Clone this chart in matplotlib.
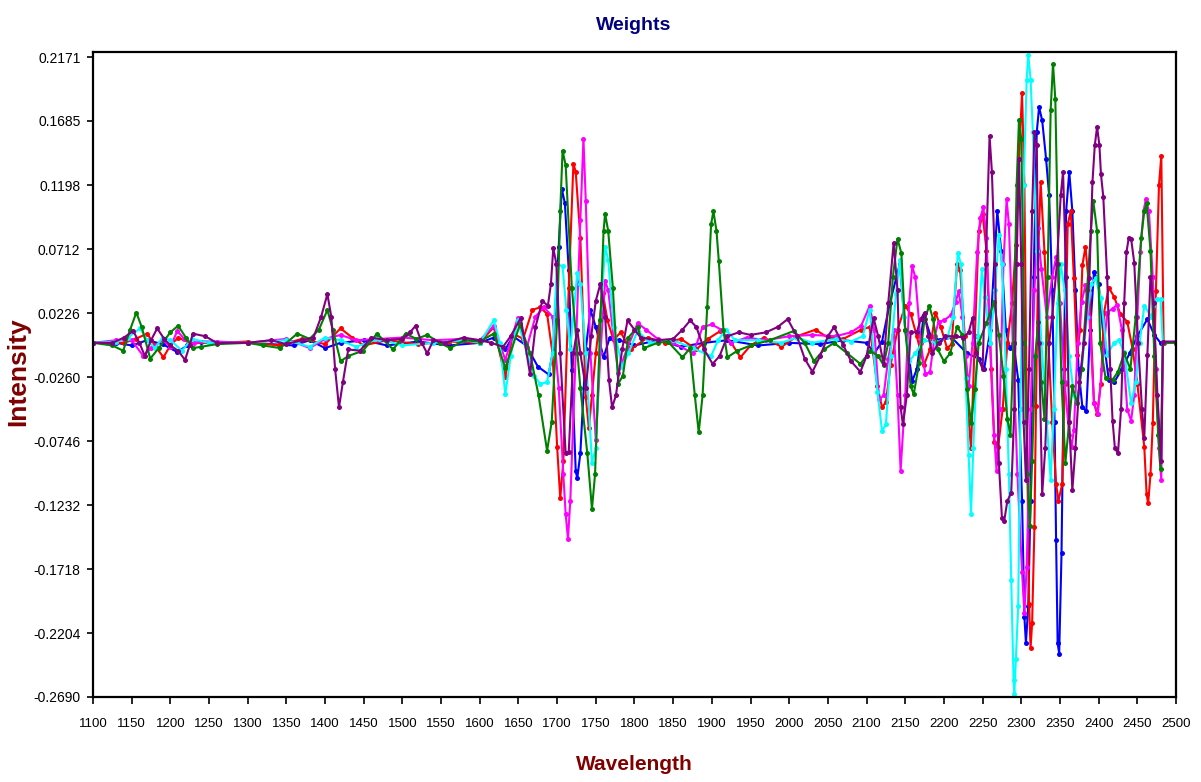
import matplotlib
matplotlib.use("Agg")
import matplotlib.pyplot as plt

# ---- data: weight vectors vs wavelength (nm) ----
wl_blue = [1100, 1130, 1150, 1170, 1190, 1209, 1222, 1240, 1300, 1360, 1380, 1400, 1420, 1450, 1480, 1520, 1560, 1600,
           1618, 1633, 1643, 1660, 1675, 1689, 1695, 1702, 1706, 1710, 1715, 1719, 1724, 1726, 1730, 1737, 1743, 1750,
           1760, 1768, 1780, 1800, 1830, 1860, 1890, 1920, 1960, 2000, 2040, 2070, 2100, 2110, 2120, 2130, 2143, 2150,
           2159, 2165, 2174, 2183, 2195, 2210, 2230, 2245, 2252, 2260, 2269, 2274, 2280, 2285, 2290, 2296, 2301, 2304,
           2306, 2309, 2312, 2316, 2320, 2323, 2327, 2332, 2336, 2340, 2343, 2345, 2347, 2349, 2352, 2355, 2358, 2362,
           2366, 2370, 2374, 2379, 2384, 2389, 2394, 2400, 2407, 2413, 2420, 2430, 2440, 2450, 2463, 2472, 2480, 2500]
val_blue = [0.0, 0.0, -0.002, 0.002, -0.001, -0.007, -0.002, 0.001, 0.0, -0.002, 0.002, -0.004, 0.0, 0.002, -0.002, 0.001,
            -0.002, 0.0, 0.004, -0.005, 0.005, -0.002, -0.018, -0.024, -0.005, 0.073, 0.117, 0.106, 0.055, -0.021, -0.097,
            -0.103, -0.084, -0.005, 0.025, 0.012, -0.011, 0.004, 0.002, -0.002, 0.002, -0.003, 0.0, 0.002, -0.002, 0.0,
            -0.001, 0.002, 0.0, -0.008, 0.001, 0.03, 0.06, 0.01, -0.029, -0.02, 0.021, 0.005, 0.002, 0.004, -0.008,
            -0.012, -0.02, 0.01, 0.1, 0.07, 0.01, -0.004, 0.0, -0.028, -0.12, -0.208, -0.228, -0.2, -0.12, 0.05, 0.16,
            0.179, 0.169, 0.14, 0.112, 0.04, -0.06, -0.15, -0.228, -0.236, -0.16, -0.02, 0.1, 0.13, 0.1, 0.04, -0.02,
            -0.049, -0.052, 0.01, 0.054, 0.045, 0.0, -0.028, -0.03, -0.02, -0.008, 0.005, 0.018, 0.006, 0.0, 0.0]

wl_red = [1100, 1140, 1155, 1170, 1180, 1191, 1200, 1210, 1225, 1260, 1300, 1340, 1370, 1400, 1420, 1435, 1450, 1480,
          1520, 1560, 1600, 1618, 1633, 1643, 1656, 1668, 1678, 1687, 1694, 1700, 1704, 1708, 1715, 1721, 1724, 1730,
          1737, 1741, 1745, 1750, 1759, 1765, 1773, 1782, 1795, 1817, 1840, 1860, 1880, 1895, 1911, 1925, 1937, 1950,
          1967, 1990, 2010, 2034, 2050, 2070, 2093, 2104, 2114, 2120, 2125, 2131, 2140, 2150, 2157, 2165, 2174, 2182,
          2189, 2196, 2204, 2210, 2217, 2221, 2227, 2232, 2235, 2240, 2245, 2250, 2255, 2261, 2265, 2270, 2276, 2282,
          2288, 2293, 2297, 2301, 2304, 2307, 2310, 2312, 2314, 2317, 2319, 2322, 2325, 2330, 2335, 2340, 2345, 2348,
          2353, 2356, 2360, 2364, 2368, 2372, 2376, 2379, 2383, 2388, 2394, 2398, 2403, 2407, 2413, 2420, 2428, 2437,
          2444, 2450, 2459, 2462, 2464, 2467, 2470, 2474, 2478, 2481, 2484, 2500]
val_red = [0.0, 0.0, 0.003, 0.007, -0.002, -0.011, -0.002, 0.004, 0.0, 0.0, 0.001, -0.002, 0.003, -0.001, 0.011, 0.004,
           -0.002, 0.002, -0.001, 0.001, 0.0, 0.012, -0.026, 0.007, 0.003, 0.025, 0.027, 0.022, -0.008, -0.079, -0.118,
           -0.09, 0.042, 0.136, 0.13, 0.08, -0.041, -0.065, -0.04, -0.008, 0.038, 0.017, 0.002, 0.008, -0.005, 0.004,
           0.0, 0.003, -0.005, 0.003, 0.009, 0.0, -0.011, -0.002, 0.004, -0.003, 0.005, 0.01, 0.004, 0.003, 0.01, 0.012,
           -0.033, -0.049, -0.045, -0.017, 0.01, 0.028, 0.022, 0.005, -0.017, -0.005, 0.023, 0.012, -0.004, -0.001,
           0.06, 0.055, 0.005, -0.059, -0.08, 0.005, 0.085, 0.098, 0.07, -0.02, -0.075, -0.079, -0.05, 0.0, 0.03,
           0.074, 0.14, 0.19, 0.12, -0.05, -0.198, -0.232, -0.213, -0.14, -0.048, 0.07, 0.122, 0.069, 0.0, -0.06,
           -0.107, -0.12, -0.107, -0.031, 0.09, 0.1, 0.049, -0.009, 0.01, 0.059, 0.073, 0.04, -0.046, -0.054, -0.031,
           0.023, 0.042, 0.035, 0.022, 0.016, -0.005, -0.031, -0.079, -0.115, -0.122, -0.1, -0.061, 0.039, 0.12,
           0.142, 0.0, 0.0]

wl_cyan = [1100, 1130, 1145, 1161, 1170, 1180, 1190, 1200, 1215, 1228, 1250, 1300, 1350, 1380, 1400, 1420, 1440, 1470,
           1500, 1540, 1580, 1600, 1618, 1626, 1633, 1640, 1649, 1661, 1670, 1678, 1687, 1694, 1700, 1707, 1712, 1717,
           1726, 1730, 1737, 1745, 1750, 1756, 1762, 1766, 1773, 1784, 1792, 1804, 1820, 1850, 1875, 1899, 1908, 1918,
           1930, 1960, 1990, 2010, 2030, 2060, 2080, 2095, 2104, 2114, 2120, 2125, 2131, 2138, 2143, 2148, 2155, 2163,
           2174, 2190, 2205, 2212, 2218, 2222, 2228, 2232, 2235, 2238, 2244, 2249, 2253, 2260, 2266, 2271, 2275, 2280,
           2284, 2287, 2290, 2291, 2293, 2296, 2299, 2303, 2307, 2309, 2312, 2315, 2320, 2326, 2333, 2338, 2342, 2347,
           2351, 2356, 2362, 2368, 2372, 2378, 2385, 2390, 2396, 2403, 2411, 2420, 2426, 2433, 2442, 2448, 2453, 2459,
           2468, 2476, 2480, 2483, 2500]
val_cyan = [0.0, 0.001, 0.004, 0.011, 0.002, -0.004, 0.004, 0.002, -0.006, 0.003, 0.0, 0.0, 0.002, -0.003, 0.004, 0.002,
            -0.003, 0.003, -0.002, 0.0, 0.002, 0.0, 0.017, 0.0, -0.039, -0.01, 0.017, -0.008, -0.025, -0.031, -0.03,
            -0.008, 0.06, 0.058, 0.025, -0.005, 0.053, 0.045, -0.008, -0.091, -0.08, 0.017, 0.073, 0.063, 0.012,
            -0.018, -0.008, 0.009, 0.0, 0.002, -0.004, -0.01, 0.002, 0.01, 0.002, 0.002, 0.0, 0.004, 0.0, 0.003, 0.001,
            0.005, 0.025, -0.037, -0.067, -0.062, -0.01, 0.037, 0.063, 0.02, -0.014, -0.008, 0.002, 0.0, 0.005, 0.02,
            0.068, 0.06, -0.027, -0.085, -0.13, -0.08, 0.005, 0.056, 0.035, 0.0, 0.04, 0.082, 0.06, -0.02, -0.1, -0.18,
            -0.256, -0.267, -0.24, -0.2, -0.05, 0.12, 0.2, 0.219, 0.2, 0.16, 0.07, 0.0, -0.06, -0.104, -0.05, 0.03,
            0.06, 0.04, -0.01, -0.04, -0.046, -0.02, 0.02, 0.045, 0.049, 0.034, -0.009, 0.0, 0.002, -0.007, -0.046,
            -0.03, 0.0, 0.028, 0.02, 0.033, 0.033, 0.0, 0.0]

wl_magenta = [1100, 1130, 1150, 1165, 1175, 1190, 1200, 1209, 1218, 1230, 1260, 1300, 1350, 1380, 1400, 1420, 1440,
              1470, 1500, 1540, 1580, 1600, 1618, 1633, 1649, 1661, 1672, 1683, 1694, 1702, 1708, 1711, 1714, 1717,
              1724, 1730, 1734, 1737, 1743, 1750, 1756, 1762, 1766, 1773, 1779, 1790, 1804, 1815, 1830, 1850, 1876,
              1888, 1900, 1912, 1925, 1945, 1970, 2000, 2030, 2060, 2080, 2093, 2104, 2110, 2116, 2122, 2128, 2135,
              2140, 2144, 2150, 2155, 2159, 2163, 2170, 2176, 2182, 2188, 2193, 2200, 2209, 2215, 2219, 2224, 2228,
              2232, 2237, 2243, 2247, 2251, 2255, 2260, 2265, 2268, 2272, 2277, 2281, 2284, 2289, 2295, 2301, 2304,
              2307, 2312, 2317, 2321, 2326, 2333, 2340, 2345, 2350, 2356, 2362, 2365, 2368, 2373, 2378, 2383, 2388,
              2394, 2399, 2404, 2411, 2418, 2424, 2430, 2437, 2442, 2446, 2450, 2454, 2458, 2461, 2465, 2470, 2474,
              2478, 2481, 2483, 2500]
val_magenta = [0.0, 0.002, 0.002, -0.01, -0.004, 0.002, -0.003, 0.009, 0.003, 0.0, 0.001, 0.0, 0.003, -0.004, 0.003,
               0.006, 0.002, 0.003, 0.004, 0.002, 0.003, 0.002, 0.013, -0.013, 0.019, -0.003, 0.02, 0.027, 0.02, -0.034,
               -0.1, -0.13, -0.149, -0.12, -0.008, 0.093, 0.155, 0.108, -0.008, -0.074, -0.008, 0.047, 0.04, 0.004,
               -0.023, -0.005, 0.015, 0.01, 0.003, 0.0, -0.008, 0.012, 0.014, 0.01, 0.0, 0.004, 0.002, 0.005, 0.006,
               0.005, 0.008, 0.013, 0.028, 0.01, -0.043, -0.04, -0.012, 0.01, -0.04, -0.097, -0.04, 0.03, 0.058, 0.05,
               0.0, -0.024, -0.022, 0.005, 0.016, 0.017, 0.021, 0.031, 0.039, 0.02, -0.01, -0.033, 0.0, 0.069, 0.095,
               0.103, 0.08, 0.0, -0.07, -0.097, -0.05, 0.06, 0.109, 0.09, 0.0, -0.1, -0.174, -0.205, -0.17, -0.05, 0.04,
               0.087, 0.056, 0.02, 0.05, 0.065, 0.03, -0.03, -0.07, -0.079, -0.066, 0.0, 0.031, 0.044, 0.02, -0.046,
               -0.054, -0.02, 0.023, 0.026, 0.029, 0.01, -0.051, -0.059, -0.04, 0.02, 0.069, 0.1, 0.109, 0.1, 0.05,
               -0.02, -0.08, -0.104, 0.0, 0.0]

wl_green = [1100, 1125, 1139, 1148, 1156, 1163, 1174, 1185, 1200, 1210, 1220, 1229, 1240, 1260, 1300, 1320, 1342, 1364,
            1380, 1392, 1403, 1410, 1420, 1430, 1449, 1467, 1488, 1504, 1518, 1532, 1548, 1562, 1580, 1600, 1618, 1633,
            1652, 1665, 1676, 1687, 1693, 1700, 1704, 1707, 1711, 1719, 1730, 1739, 1745, 1749, 1756, 1760, 1762, 1766,
            1772, 1779, 1785, 1792, 1804, 1812, 1830, 1843, 1862, 1872, 1878, 1883, 1888, 1894, 1899, 1902, 1906, 1909,
            1915, 1920, 1933, 1950, 1975, 2006, 2020, 2032, 2045, 2058, 2075, 2092, 2105, 2115, 2122, 2128, 2134, 2140,
            2145, 2150, 2157, 2161, 2168, 2175, 2181, 2186, 2192, 2200, 2208, 2217, 2224, 2230, 2235, 2240, 2245, 2255,
            2265, 2271, 2277, 2282, 2286, 2290, 2294, 2297, 2300, 2304, 2308, 2311, 2314, 2318, 2322, 2326, 2330, 2334,
            2338, 2341, 2344, 2348, 2352, 2357, 2362, 2366, 2372, 2378, 2385, 2390, 2393, 2398, 2402, 2409, 2418, 2425,
            2433, 2441, 2448, 2455, 2459, 2462, 2467, 2472, 2477, 2480, 2483, 2500]
val_green = [0.0, -0.002, -0.006, 0.01, 0.023, 0.012, -0.012, -0.004, 0.008, 0.013, 0.004, -0.004, -0.003, -0.001, 0.0,
             -0.002, -0.004, 0.007, 0.003, 0.01, 0.025, 0.01, -0.014, -0.01, -0.006, 0.007, -0.005, 0.007, 0.003, 0.006,
             0.0, -0.004, 0.002, 0.001, 0.007, -0.019, 0.014, -0.008, -0.04, -0.082, -0.06, 0.017, 0.1, 0.146, 0.135,
             0.042, -0.034, -0.084, -0.126, -0.1, 0.017, 0.085, 0.098, 0.085, 0.042, -0.031, -0.025, 0.004, 0.012,
             -0.004, 0.0, 0.001, -0.011, -0.004, -0.04, -0.068, -0.04, 0.027, 0.09, 0.1, 0.085, 0.062, 0.01, -0.011,
             -0.006, -0.002, 0.002, 0.009, 0.0, -0.014, -0.005, 0.0, -0.008, -0.016, -0.006, -0.01, -0.017, 0.0, 0.05,
             0.079, 0.068, 0.01, -0.033, -0.039, -0.015, 0.018, 0.028, 0.018, -0.005, -0.014, -0.008, 0.012, 0.006,
             -0.035, -0.061, -0.035, 0.0, 0.015, 0.031, 0.006, -0.025, -0.058, -0.07, 0.0, 0.12, 0.169, 0.155, 0.0, -0.1,
             -0.139, -0.09, -0.01, 0.016, -0.03, -0.058, 0.05, 0.177, 0.212, 0.185, 0.06, -0.03, -0.091, -0.06, -0.033,
             -0.046, -0.02, 0.04, 0.085, 0.108, 0.085, 0.0, -0.027, -0.028, -0.022, -0.008, -0.02, 0.02, 0.08, 0.1,
             0.106, 0.07, -0.01, -0.07, -0.096, 0.0, 0.0]

wl_purple = [1100, 1125, 1140, 1152, 1160, 1167, 1175, 1183, 1192, 1200, 1210, 1219, 1225, 1229, 1245, 1260, 1300, 1330,
             1350, 1370, 1385, 1395, 1403, 1408, 1413, 1418, 1423, 1430, 1445, 1460, 1480, 1500, 1510, 1517, 1525, 1532,
             1540, 1555, 1579, 1600, 1615, 1630, 1640, 1653, 1665, 1672, 1681, 1688, 1692, 1695, 1699, 1704, 1711, 1715,
             1721, 1726, 1730, 1737, 1744, 1750, 1756, 1762, 1767, 1771, 1776, 1784, 1791, 1800, 1808, 1830, 1850, 1862,
             1872, 1880, 1890, 1901, 1910, 1920, 1935, 1950, 1970, 1985, 1998, 2010, 2020, 2030, 2040, 2050, 2058, 2070,
             2080, 2092, 2100, 2109, 2115, 2122, 2128, 2135, 2140, 2144, 2147, 2152, 2157, 2165, 2170, 2175, 2180, 2185,
             2193, 2202, 2215, 2225, 2232, 2237, 2242, 2250, 2254, 2259, 2262, 2266, 2271, 2275, 2278, 2282, 2287, 2291,
             2294, 2297, 2300, 2303, 2306, 2310, 2314, 2317, 2320, 2323, 2327, 2331, 2336, 2340, 2346, 2351, 2354, 2358,
             2362, 2366, 2370, 2375, 2381, 2388, 2392, 2395, 2398, 2401, 2403, 2406, 2411, 2415, 2418, 2421, 2425, 2429,
             2433, 2436, 2439, 2442, 2446, 2451, 2456, 2459, 2463, 2467, 2471, 2476, 2481, 2483, 2500]
val_purple = [0.0, 0.0, 0.004, 0.009, 0.0, -0.01, 0.002, 0.011, 0.003, -0.002, -0.006, -0.013, -0.002, 0.007, 0.005, 0.0,
              0.0, 0.002, -0.001, 0.002, 0.004, 0.02, 0.037, 0.02, -0.02, -0.049, -0.03, -0.005, -0.006, 0.004, 0.002,
              0.003, 0.008, 0.013, 0.0, -0.008, 0.002, 0.0, 0.004, 0.002, 0.0, -0.003, 0.005, 0.019, -0.024, 0.012, 0.032,
              0.028, 0.045, 0.072, 0.06, -0.008, -0.084, -0.083, -0.008, 0.01, -0.008, -0.034, 0.005, 0.032, 0.045, 0.02,
              -0.028, -0.049, -0.04, -0.005, 0.017, 0.01, 0.004, 0.002, 0.003, 0.01, 0.017, 0.012, -0.005, -0.016, -0.01,
              0.005, 0.008, 0.006, 0.008, 0.012, 0.018, 0.005, -0.012, -0.022, -0.01, 0.005, 0.012, -0.002, -0.014,
              -0.022, -0.01, 0.019, 0.005, -0.016, 0.03, 0.076, 0.04, -0.049, -0.062, -0.04, 0.008, 0.008, 0.018, 0.023,
              0.005, -0.008, 0.0, 0.005, 0.005, 0.004, 0.008, 0.019, -0.008, -0.02, 0.06, 0.157, 0.13, 0.06, -0.091,
              -0.133, -0.135, -0.12, -0.114, -0.05, 0.06, 0.14, 0.06, -0.06, -0.104, -0.02, 0.1, 0.16, 0.15, 0.0, -0.115,
              -0.08, 0.0, 0.02, 0.06, 0.112, 0.13, 0.05, -0.06, -0.112, -0.08, -0.03, 0.0, 0.049, 0.122, 0.15, 0.164,
              0.15, 0.128, 0.111, 0.05, -0.02, -0.059, -0.08, -0.084, -0.05, 0.03, 0.069, 0.08, 0.079, 0.061, 0.0, -0.05,
              -0.072, -0.009, 0.05, 0.03, -0.04, -0.09, 0.001, 0.001]

series = [
    (wl_blue, val_blue, "#0000FF"),
    (wl_red, val_red, "#FF0000"),
    (wl_magenta, val_magenta, "#FF00FF"),
    (wl_cyan, val_cyan, "#00FFFF"),
    (wl_green, val_green, "#008000"),
    (wl_purple, val_purple, "#800080"),
]

x_ticks = list(range(1100, 2501, 50))
y_ticks = [-0.2690, -0.2204, -0.1718, -0.1232, -0.0746, -0.0260, 0.0226, 0.0712, 0.1198, 0.1685, 0.2171]

sans = ["Liberation Sans", "DejaVu Sans"]

fig = plt.figure(figsize=(12.01, 7.82), dpi=100)
ax = fig.add_axes([93 / 1201, 1 - 697 / 782, (1176 - 93) / 1201, (697 - 52) / 782])

for wl, val, col in series:
    ax.plot(wl, val, color=col, linewidth=1.5, marker="o", markersize=3.6,
            markeredgewidth=0, solid_joinstyle="round")

ax.set_xlim(1100, 2500)
ax.set_ylim(-0.2690, 0.2209)
ax.set_xticks(x_ticks)
ax.set_xticklabels([str(v) for v in x_ticks], family=sans, fontsize=9.5)
ax.set_yticks(y_ticks)
ax.set_yticklabels([f"{v:.4f}" for v in y_ticks], family=sans, fontsize=10)
ax.tick_params(axis="x", direction="out", length=5, width=1.2, pad=10)
ax.tick_params(axis="y", direction="out", length=4, width=1.2, pad=5)
for sp in ax.spines.values():
    sp.set_linewidth(1.6)
    sp.set_color("black")

fig.text(634 / 1201, 1 - 25 / 782, "Weights", ha="center", va="center",
         family=sans, fontsize=14, fontweight="bold", color="#000080")
fig.text(634 / 1201, 1 - 765 / 782, "Wavelength", ha="center", va="center",
         family=sans, fontsize=15, fontweight="bold", color="#800000")
fig.text(18 / 1201, 1 - 372 / 782, "Intensity", ha="center", va="center", rotation=90,
         family=sans, fontsize=19, fontweight="bold", color="#800000")

fig.savefig("out.png", dpi=100)
